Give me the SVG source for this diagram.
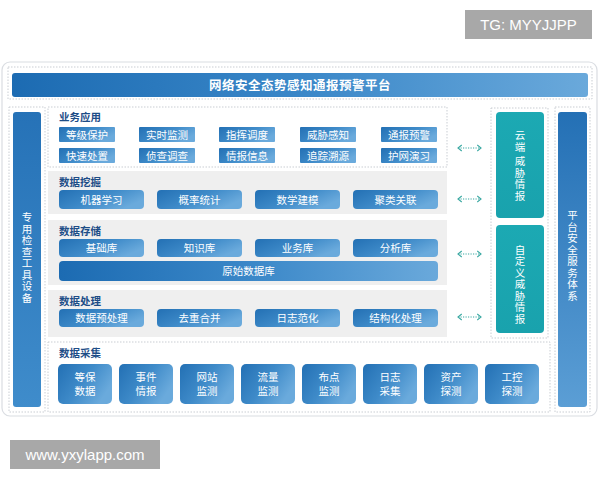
<svg xmlns="http://www.w3.org/2000/svg" width="600" height="480" viewBox="0 0 600 480">
<defs>
<linearGradient id="gBtn" x1="0" y1="0" x2="1" y2="0.5">
<stop offset="0" stop-color="#2370b4"/>
<stop offset="0.55" stop-color="#3f8bc9"/>
<stop offset="1" stop-color="#6aaadc"/>
</linearGradient>
<linearGradient id="gTitle" x1="0" y1="0" x2="1" y2="0">
<stop offset="0" stop-color="#1c6bb2"/>
<stop offset="0.5" stop-color="#3a87c8"/>
<stop offset="1" stop-color="#6aa9db"/>
</linearGradient>
<linearGradient id="gCol" x1="0" y1="0" x2="0" y2="1">
<stop offset="0" stop-color="#2672b7"/>
<stop offset="1" stop-color="#3f8ccb"/>
</linearGradient>
<linearGradient id="gColR" x1="0" y1="0" x2="0" y2="1">
<stop offset="0" stop-color="#2470b5"/>
<stop offset="1" stop-color="#5b9ed5"/>
</linearGradient>
<linearGradient id="gTeal" x1="0" y1="0" x2="0" y2="1">
<stop offset="0" stop-color="#1ca9b3"/>
<stop offset="1" stop-color="#19a2ad"/>
</linearGradient>
<marker id="ah" viewBox="0 0 8 10" refX="6" refY="5" markerWidth="6" markerHeight="7.5" orient="auto-start-reverse" markerUnits="userSpaceOnUse">
<polyline points="1,1 6,5 1,9" fill="none" stroke="#3aa8a2" stroke-width="1.5"/>
</marker>
</defs>
<style>
text{font-family:"Noto Sans CJK SC","Noto Sans",sans-serif;}
.dot{fill:none;stroke:#c9cdd3;stroke-width:1;stroke-dasharray:1.5 1.5;}
.panel{fill:#efefef;}
.btn{fill:url(#gBtn);}
.bt{fill:#ffffff;font-size:10.5px;text-anchor:middle;}
.sec{fill:#1d4d87;font-size:10.5px;font-weight:bold;}
.vt{fill:#ffffff;font-size:10.5px;writing-mode:vertical-rl;text-orientation:upright;}
.conn{fill:none;stroke:#3aa8a2;stroke-width:1.2;stroke-dasharray:1.2 1.3;marker-start:url(#ah);marker-end:url(#ah);}
.wm{fill:#a8a8a8;}
.wmt{fill:#ffffff;font-family:"Liberation Sans",Arial,sans-serif;font-size:15px;}
</style>
<rect width="600" height="480" fill="#ffffff"/>
<g id="watermark-tg">
<rect class="wm" x="465" y="10" width="127" height="29"/>
<text class="wmt" x="528.5" y="30" text-anchor="middle">TG: MYYJJPP</text>
</g>
<g id="watermark-www">
<rect class="wm" x="10" y="440" width="150" height="29"/>
<text class="wmt" x="85" y="460" text-anchor="middle">www.yxylapp.com</text>
</g>
<g id="frame">
<rect x="2" y="62" width="595" height="354" rx="8" fill="#ffffff" stroke="#dadde2" stroke-width="1.2"/>
<rect class="dot" x="8" y="67" width="584" height="32"/>
<rect class="dot" x="9" y="107" width="36" height="305"/>
<rect class="dot" x="48" y="107" width="399" height="60"/>
<rect class="dot" x="491" y="108" width="57" height="230"/>
<rect class="dot" x="555" y="107" width="35" height="305"/>
<rect class="dot" x="48" y="342" width="502" height="70"/>
</g>
<g id="title">
<rect x="12" y="73" width="576" height="24" rx="3" fill="url(#gTitle)"/>
<text x="300" y="89.5" fill="#ffffff" font-size="12.5" font-weight="bold" text-anchor="middle" letter-spacing="0.5">网络安全态势感知通报预警平台</text>
</g>
<g id="left-column">
<rect x="13" y="112" width="28" height="295" rx="3" fill="url(#gCol)"/>
<text class="vt" x="27" y="212" letter-spacing="1">专用检查工具设备</text>
</g>
<g id="right-column">
<rect x="558" y="112" width="29" height="295" rx="3" fill="url(#gColR)"/>
<text class="vt" x="572.5" y="210" letter-spacing="1">平台安全服务体系</text>
</g>
<g id="cloud-intel">
<rect x="496" y="112" width="48" height="106" rx="4" fill="url(#gTeal)"/>
<text class="vt" x="520" y="129.5" font-size="11" letter-spacing="2">云端</text>
<text class="vt" x="520" y="156" font-size="11" letter-spacing="1">威胁情报</text>
</g>
<g id="custom-intel">
<rect x="496" y="225" width="48" height="108" rx="4" fill="url(#gTeal)"/>
<text class="vt" x="520" y="244.5" letter-spacing="1">自定义威胁情报</text>
</g>
<g id="business">
<text class="sec" x="59" y="121">业务应用</text>
<rect class="btn" x="59" y="127" width="56" height="15" rx="1"/><text class="bt" x="87" y="138.5">等级保护</text>
<rect class="btn" x="139" y="127" width="56" height="15" rx="1"/><text class="bt" x="167" y="138.5">实时监测</text>
<rect class="btn" x="219" y="127" width="56" height="15" rx="1"/><text class="bt" x="247" y="138.5">指挥调度</text>
<rect class="btn" x="300" y="127" width="56" height="15" rx="1"/><text class="bt" x="328" y="138.5">威胁感知</text>
<rect class="btn" x="381" y="127" width="56" height="15" rx="1"/><text class="bt" x="409" y="138.5">通报预警</text>
<rect class="btn" x="59" y="148" width="56" height="15" rx="1"/><text class="bt" x="87" y="159.5">快速处置</text>
<rect class="btn" x="139" y="148" width="56" height="15" rx="1"/><text class="bt" x="167" y="159.5">侦查调查</text>
<rect class="btn" x="219" y="148" width="56" height="15" rx="1"/><text class="bt" x="247" y="159.5">情报信息</text>
<rect class="btn" x="300" y="148" width="56" height="15" rx="1"/><text class="bt" x="328" y="159.5">追踪溯源</text>
<rect class="btn" x="381" y="148" width="56" height="15" rx="1"/><text class="bt" x="409" y="159.5">护网演习</text>
</g>
<g id="mining">
<rect class="panel" x="48" y="171" width="399" height="43"/>
<text class="sec" x="59" y="186">数据挖掘</text>
<rect class="btn" x="59" y="190" width="85" height="19" rx="4"/><text class="bt" x="101.5" y="203.5">机器学习</text>
<rect class="btn" x="157" y="190" width="85" height="19" rx="4"/><text class="bt" x="199.5" y="203.5">概率统计</text>
<rect class="btn" x="255" y="190" width="85" height="19" rx="4"/><text class="bt" x="297.5" y="203.5">数学建模</text>
<rect class="btn" x="353" y="190" width="85" height="19" rx="4"/><text class="bt" x="395.5" y="203.5">聚类关联</text>
</g>
<g id="storage">
<rect class="panel" x="48" y="220" width="399" height="65"/>
<text class="sec" x="59" y="235">数据存储</text>
<rect class="btn" x="59" y="239" width="85" height="18" rx="4"/><text class="bt" x="101.5" y="252">基础库</text>
<rect class="btn" x="157" y="239" width="85" height="18" rx="4"/><text class="bt" x="199.5" y="252">知识库</text>
<rect class="btn" x="255" y="239" width="85" height="18" rx="4"/><text class="bt" x="297.5" y="252">业务库</text>
<rect class="btn" x="353" y="239" width="85" height="18" rx="4"/><text class="bt" x="395.5" y="252">分析库</text>
<rect x="59" y="261" width="379" height="20" rx="4" fill="url(#gTitle)"/><text class="bt" x="248.5" y="275">原始数据库</text>
</g>
<g id="processing">
<rect class="panel" x="48" y="290" width="399" height="47"/>
<text class="sec" x="59" y="305">数据处理</text>
<rect class="btn" x="59" y="309" width="85" height="18" rx="4"/><text class="bt" x="101.5" y="322">数据预处理</text>
<rect class="btn" x="157" y="309" width="85" height="18" rx="4"/><text class="bt" x="199.5" y="322">去重合并</text>
<rect class="btn" x="255" y="309" width="85" height="18" rx="4"/><text class="bt" x="297.5" y="322">日志范化</text>
<rect class="btn" x="353" y="309" width="85" height="18" rx="4"/><text class="bt" x="395.5" y="322">结构化处理</text>
</g>
<g id="collection">
<text class="sec" x="59" y="357">数据采集</text>
<rect class="btn" x="58" y="364" width="54" height="40" rx="5"/><text class="bt" x="85" y="381">等保</text><text class="bt" x="85" y="395">数据</text>
<rect class="btn" x="119" y="364" width="54" height="40" rx="5"/><text class="bt" x="146" y="381">事件</text><text class="bt" x="146" y="395">情报</text>
<rect class="btn" x="180" y="364" width="54" height="40" rx="5"/><text class="bt" x="207" y="381">网站</text><text class="bt" x="207" y="395">监测</text>
<rect class="btn" x="241" y="364" width="54" height="40" rx="5"/><text class="bt" x="268" y="381">流量</text><text class="bt" x="268" y="395">监测</text>
<rect class="btn" x="302" y="364" width="54" height="40" rx="5"/><text class="bt" x="329" y="381">布点</text><text class="bt" x="329" y="395">监测</text>
<rect class="btn" x="363" y="364" width="54" height="40" rx="5"/><text class="bt" x="390" y="381">日志</text><text class="bt" x="390" y="395">采集</text>
<rect class="btn" x="424" y="364" width="54" height="40" rx="5"/><text class="bt" x="451" y="381">资产</text><text class="bt" x="451" y="395">探测</text>
<rect class="btn" x="485" y="364" width="54" height="40" rx="5"/><text class="bt" x="512" y="381">工控</text><text class="bt" x="512" y="395">探测</text>
</g>
<g id="connectors">
<line class="conn" x1="458" y1="148" x2="481" y2="148"/>
<line class="conn" x1="458" y1="199" x2="481" y2="199"/>
<line class="conn" x1="458" y1="254" x2="481" y2="254"/>
<line class="conn" x1="458" y1="317" x2="481" y2="317"/>
</g>
</svg>
